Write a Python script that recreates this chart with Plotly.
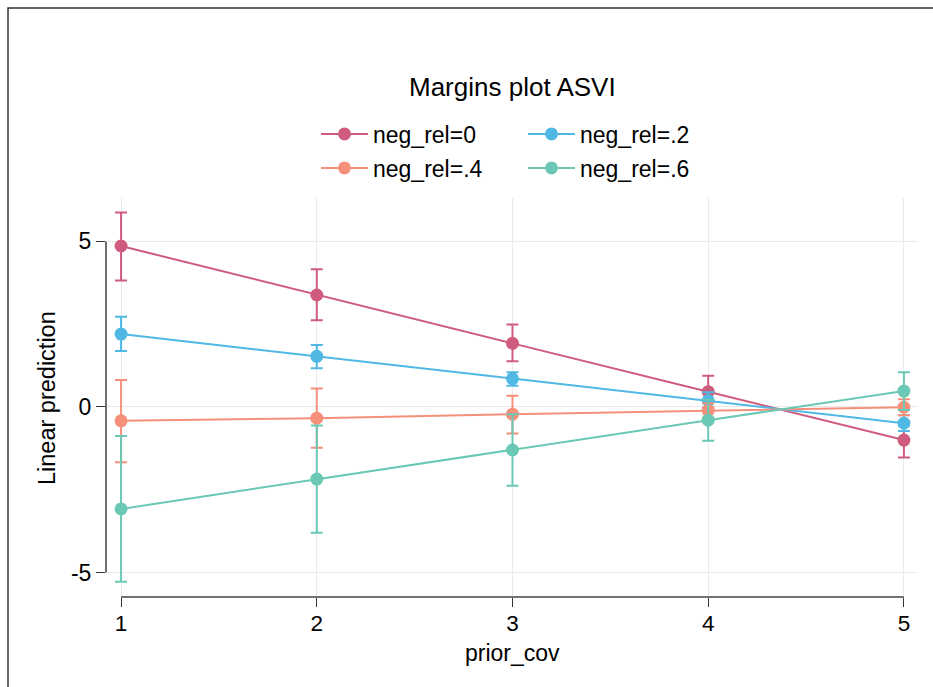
import plotly.graph_objects as go

prior_cov = [1, 2, 3, 4, 5]
series_names = ["neg_rel=0", "neg_rel=.2", "neg_rel=.4", "neg_rel=.6"]
colors = ["#CF5C7F", "#4FB8E3", "#F5907A", "#6AC8B5"]

y_nr0 = [4.86, 3.38, 1.92, 0.46, -1.00]
lo_nr0 = [3.82, 2.62, 1.38, -0.02, -1.53]
hi_nr0 = [5.87, 4.16, 2.49, 0.94, -0.47]

y_nr2 = [2.20, 1.53, 0.85, 0.19, -0.49]
lo_nr2 = [1.69, 1.17, 0.64, -0.06, -0.73]
hi_nr2 = [2.72, 1.87, 1.05, 0.44, -0.25]

y_nr4 = [-0.42, -0.34, -0.22, -0.11, -0.01]
lo_nr4 = [-1.67, -1.23, -0.80, -0.33, -0.25]
hi_nr4 = [0.81, 0.56, 0.34, 0.11, 0.23]

y_nr6 = [-3.08, -2.18, -1.30, -0.40, 0.48]
lo_nr6 = [-5.28, -3.80, -2.38, -1.02, -0.09]
hi_nr6 = [-0.88, -0.56, -0.22, 0.22, 1.05]

ytick_vals = [-5, 0, 5]
ytick_text = ["-5", "0", "5"]
xtick_vals = [1, 2, 3, 4, 5]

FONT = "Liberation Sans, Arial, sans-serif"

fig = go.Figure()
series = [(y_nr0, lo_nr0, hi_nr0), (y_nr2, lo_nr2, hi_nr2),
          (y_nr4, lo_nr4, hi_nr4), (y_nr6, lo_nr6, hi_nr6)]
legend_ids = ["legend", "legend", "legend2", "legend2"]
for name, col, (yv, lo, hi), lg in zip(series_names, colors, series, legend_ids):
    fig.add_trace(go.Scatter(
        x=prior_cov, y=yv, name=name, mode="lines+markers",
        line=dict(color=col, width=2),
        marker=dict(color=col, size=13, line=dict(width=0)),
        error_y=dict(type="data", symmetric=False,
                     array=[h - v for h, v in zip(hi, yv)],
                     arrayminus=[v - l for v, l in zip(yv, lo)],
                     color=col, thickness=2, width=6),
        legend=lg,
    ))

L, R, T, B = 106, 15, 198, 90
W, H = 933, 687
pw = W - L - R
ph = H - T - B

def px_x(px):
    return (px - L) / pw

def px_y(py):
    return (H - B - py) / ph

legend_common = dict(orientation="h", xanchor="left", yanchor="middle",
                     entrywidth=145, itemwidth=47, font=dict(size=23),
                     bgcolor="rgba(0,0,0,0)")

fig.update_layout(
    width=W, height=H,
    margin=dict(l=L, r=R, t=T, b=B, pad=0),
    paper_bgcolor="white", plot_bgcolor="white",
    font=dict(family=FONT, size=23, color="black"),
    xaxis=dict(range=[0.923, 5.072], tickvals=xtick_vals, showgrid=True,
               gridcolor="#EAEAEA", gridwidth=1, zeroline=False, showline=False,
               ticks="outside", ticklen=9, tickwidth=1, tickcolor="#333",
               tickfont=dict(size=22.5), ticklabelstandoff=-3),
    yaxis=dict(range=[-5.74, 6.31], tickvals=ytick_vals, ticktext=ytick_text,
               showgrid=True, gridcolor="#EAEAEA", gridwidth=1, zeroline=False,
               showline=False, ticks="outside", ticklen=9, tickwidth=1,
               tickcolor="#333", tickfont=dict(size=23)),
    showlegend=True,
    legend=dict(x=px_x(316), y=px_y(134), **legend_common),
    legend2=dict(x=px_x(316), y=px_y(168), **legend_common),
    annotations=[
        dict(text="Margins plot ASVI", x=px_x(512), y=px_y(87), xref="paper",
             yref="paper", showarrow=False, xanchor="center", yanchor="middle",
             font=dict(size=26)),
        dict(text="prior_cov", x=px_x(512), y=px_y(653), xref="paper",
             yref="paper", showarrow=False, xanchor="center", yanchor="middle",
             font=dict(size=23)),
        dict(text="Linear prediction", x=px_x(47), y=px_y(398), xref="paper",
             yref="paper", showarrow=False, xanchor="center", yanchor="middle",
             textangle=-90, font=dict(size=23.5)),
    ],
    shapes=[
        dict(type="line", xref="paper", yref="y", x0=0, x1=0, y0=-5, y1=5,
             line=dict(color="#222", width=1.3)),
        dict(type="line", xref="x", yref="paper", x0=1, x1=5, y0=0, y1=0,
             line=dict(color="#444", width=1.6)),
        dict(type="rect", xref="paper", yref="paper",
             x0=px_x(8), x1=px_x(945), y0=px_y(700), y1=px_y(8),
             line=dict(color="#333", width=1.5), fillcolor="rgba(0,0,0,0)"),
    ],
)

fig.write_html("out.html")
